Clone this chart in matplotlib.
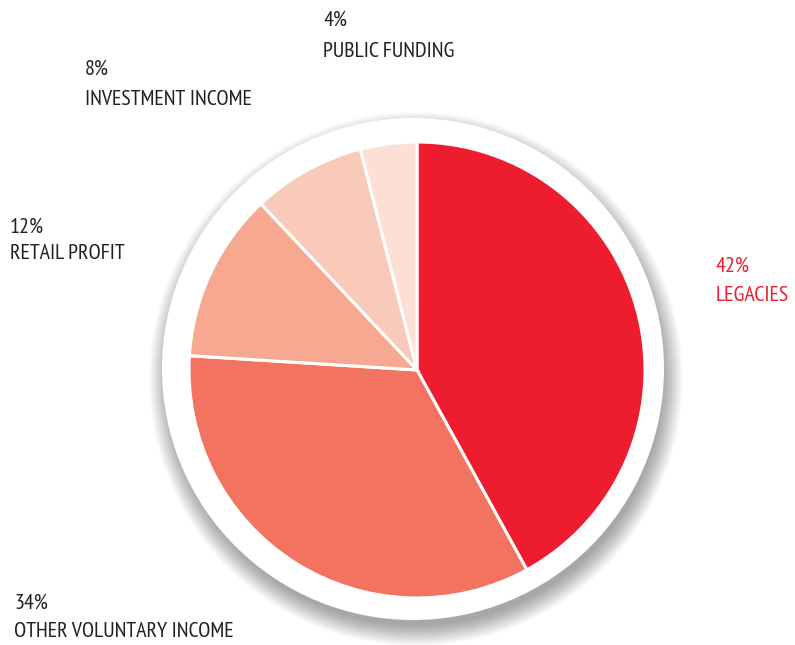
import matplotlib.pyplot as plt
from matplotlib.patches import Circle

# Income sources (clockwise from 12 o'clock)
labels = ["LEGACIES", "OTHER VOLUNTARY INCOME", "RETAIL PROFIT",
          "INVESTMENT INCOME", "PUBLIC FUNDING"]
shares = [42, 34, 12, 8, 4]
colors = ["#ED1C2E", "#F27360", "#F6A890", "#F9C9BA", "#FCE0D6"]

W, H = 795, 645
fig = plt.figure(figsize=(W / 100, H / 100), dpi=100)
ax = fig.add_axes([0, 0, 1, 1])

cx, cy, r = 417, H - 370, 228
dx, dy, R = 413, H - 369, 251

# soft drop shadow behind the white disc
for i in range(24):
    ax.add_patch(Circle((dx + 3, dy - 10), R + 16 - i * 0.9, color="#000000",
                        alpha=0.017, lw=0, zorder=1))
ax.add_patch(Circle((dx, dy), R, color="white", lw=0, zorder=2))

wedges, _ = ax.pie(shares, colors=colors, startangle=90, counterclock=False,
                   center=(cx, cy), radius=r, frame=True,
                   wedgeprops=dict(edgecolor="white", linewidth=2.2))
for w in wedges:
    w.set_zorder(3)
ax.set_xlim(0, W)
ax.set_ylim(0, H)
ax.set_aspect("equal")
ax.axis("off")

font = ["PT Sans Narrow", "DejaVu Sans"]
dark = "#231F20"
# x, baseline of percent line, baseline of name line (pixels from top)
label_pos = {
    "LEGACIES": (716, 272, 301, "#ED1C2E"),
    "OTHER VOLUNTARY INCOME": (14, 609, 637, dark),
    "RETAIL PROFIT": (10, 233, 259, dark),
    "INVESTMENT INCOME": (85, 75, 105, dark),
    "PUBLIC FUNDING": (323, 26, 57, dark),
}
for lab, val in zip(labels, shares):
    x, y1, y2, c = label_pos[lab]
    ax.text(x, H - y1, f"{val}%", ha="left", va="baseline", color=c,
            fontsize=15.8, family=font, zorder=5)
    ax.text(x, H - y2, lab, ha="left", va="baseline", color=c,
            fontsize=15.8, family=font, zorder=5)

fig.savefig("out.png", dpi=100)
